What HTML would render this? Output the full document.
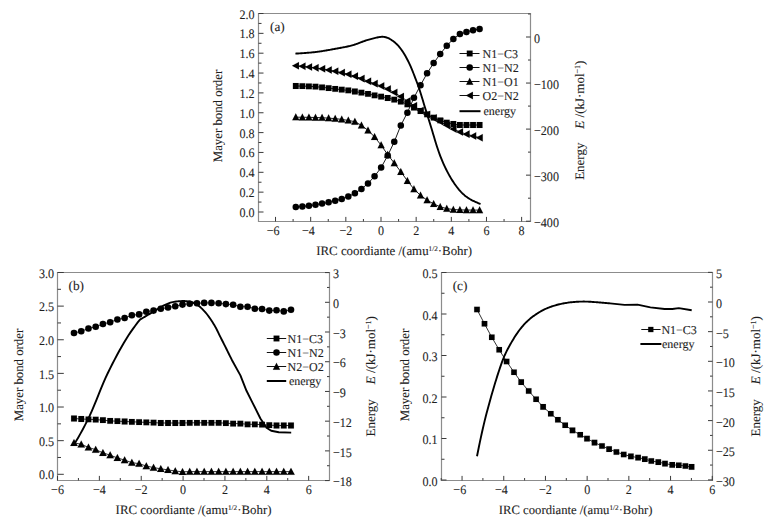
<!DOCTYPE html><html><head><meta charset="utf-8"><style>html,body{margin:0;padding:0;background:#fff;width:774px;height:520px;overflow:hidden}</style></head><body><svg width="774" height="520" viewBox="0 0 774 520" style="display:block">
<rect width="774" height="520" fill="#fff"/>
<g font-family="'Liberation Serif', serif" fill="#1e1e1e" stroke="#1e1e1e" stroke-width="0.1" text-rendering="geometricPrecision">
<path d="M258.5 13.5H530.5V221.5H258.5Z" fill="none" stroke="#8c8c8c" stroke-width="1.2"/>
<path d="M275.52 221.5v-4.6M310.68 221.5v-4.6M345.84 221.5v-4.6M381.00 221.5v-4.6M416.16 221.5v-4.6M451.32 221.5v-4.6M486.48 221.5v-4.6M521.64 221.5v-4.6M293.10 221.5v-2.5M328.26 221.5v-2.5M363.42 221.5v-2.5M398.58 221.5v-2.5M433.74 221.5v-2.5M468.90 221.5v-2.5M504.06 221.5v-2.5" stroke="#3a3a3a" stroke-width="1.0" fill="none"/>
<text transform="translate(273.22 234.70) scale(0.93 1.0)" text-anchor="middle" font-size="13">−6</text>
<text transform="translate(308.38 234.70) scale(0.93 1.0)" text-anchor="middle" font-size="13">−4</text>
<text transform="translate(345.84 234.70) scale(0.93 1.0)" text-anchor="middle" font-size="13">−2</text>
<text transform="translate(381.00 234.70) scale(0.93 1.0)" text-anchor="middle" font-size="13">0</text>
<text transform="translate(416.16 234.70) scale(0.93 1.0)" text-anchor="middle" font-size="13">2</text>
<text transform="translate(451.32 234.70) scale(0.93 1.0)" text-anchor="middle" font-size="13">4</text>
<text transform="translate(486.48 234.70) scale(0.93 1.0)" text-anchor="middle" font-size="13">6</text>
<text transform="translate(521.64 234.70) scale(0.93 1.0)" text-anchor="middle" font-size="13">8</text>
<path d="M258.5 212.00h5M258.5 192.15h5M258.5 172.30h5M258.5 152.45h5M258.5 132.60h5M258.5 112.75h5M258.5 92.90h5M258.5 73.05h5M258.5 53.20h5M258.5 33.35h5M258.5 13.50h5M258.5 202.07h3M258.5 182.22h3M258.5 162.38h3M258.5 142.53h3M258.5 122.67h3M258.5 102.82h3M258.5 82.97h3M258.5 63.12h3M258.5 43.28h3M258.5 23.43h3" stroke="#3a3a3a" stroke-width="1.0" fill="none"/>
<text transform="translate(254.50 217.00) scale(0.93 1.0)" text-anchor="end" font-size="13">0.0</text>
<text transform="translate(254.50 197.15) scale(0.93 1.0)" text-anchor="end" font-size="13">0.2</text>
<text transform="translate(254.50 177.30) scale(0.93 1.0)" text-anchor="end" font-size="13">0.4</text>
<text transform="translate(254.50 157.45) scale(0.93 1.0)" text-anchor="end" font-size="13">0.6</text>
<text transform="translate(254.50 137.60) scale(0.93 1.0)" text-anchor="end" font-size="13">0.8</text>
<text transform="translate(254.50 117.75) scale(0.93 1.0)" text-anchor="end" font-size="13">1.0</text>
<text transform="translate(254.50 97.90) scale(0.93 1.0)" text-anchor="end" font-size="13">1.2</text>
<text transform="translate(254.50 78.05) scale(0.93 1.0)" text-anchor="end" font-size="13">1.4</text>
<text transform="translate(254.50 58.20) scale(0.93 1.0)" text-anchor="end" font-size="13">1.6</text>
<text transform="translate(254.50 38.35) scale(0.93 1.0)" text-anchor="end" font-size="13">1.8</text>
<text transform="translate(254.50 18.50) scale(0.93 1.0)" text-anchor="end" font-size="13">2.0</text>
<path d="M530.5 37.00h-4.5M530.5 83.05h-4.5M530.5 129.10h-4.5M530.5 175.15h-4.5M530.5 221.20h-4.5M530.5 13.97h-2.5M530.5 60.03h-2.5M530.5 106.08h-2.5M530.5 152.12h-2.5M530.5 198.18h-2.5" stroke="#3a3a3a" stroke-width="1.0" fill="none"/>
<text transform="translate(534.00 43.00) scale(0.93 1.0)" text-anchor="start" font-size="13">0</text>
<text transform="translate(534.00 89.05) scale(0.93 1.0)" text-anchor="start" font-size="13">−100</text>
<text transform="translate(534.00 135.10) scale(0.93 1.0)" text-anchor="start" font-size="13">−200</text>
<text transform="translate(534.00 181.15) scale(0.93 1.0)" text-anchor="start" font-size="13">−300</text>
<text transform="translate(534.00 227.20) scale(0.93 1.0)" text-anchor="start" font-size="13">−400</text>
<text transform="translate(222.2 116) rotate(-90)" text-anchor="middle" font-size="12.8">Mayer bond order</text>
<text transform="translate(584.2 94.6) rotate(-90)" text-anchor="middle" font-size="13"><tspan font-style="italic">E</tspan> /(kJ·mol<tspan dy="-4" font-size="8">−1</tspan><tspan dy="4">)</tspan></text>
<text transform="translate(584.2 161.2) rotate(-90)" text-anchor="middle" font-size="13">Energy</text>
<text x="316.2" y="254.9" font-size="12.9">IRC coordiante /(amu<tspan dy="-3.8" font-size="7.2">1/2</tspan><tspan dy="3.8">·Bohr)</tspan></text>
<text x="270.0" y="30.5" font-size="13.3">(a)</text>
<path d="M295.80 86.00 L302.36 86.09 L308.93 86.30 L315.49 86.69 L322.06 87.28 L328.62 88.04 L335.18 88.90 L341.75 89.66 L348.31 90.47 L354.88 91.52 L361.44 92.71 L368.00 93.97 L374.57 95.29 L381.13 96.58 L387.70 97.98 L394.26 99.60 L400.82 101.58 L407.39 104.37 L413.95 107.48 L420.52 111.01 L427.08 114.44 L433.64 117.64 L440.21 120.46 L446.77 122.54 L453.34 123.99 L459.90 125.00 L466.46 125.00 L473.03 125.00 L479.59 125.00" fill="none" stroke="#000" stroke-width="0.9" stroke-linejoin="round" stroke-linecap="butt"/>
<path d="M292.90 83.10h5.8v5.8h-5.8ZM299.46 83.19h5.8v5.8h-5.8ZM306.03 83.40h5.8v5.8h-5.8ZM312.59 83.79h5.8v5.8h-5.8ZM319.16 84.38h5.8v5.8h-5.8ZM325.72 85.14h5.8v5.8h-5.8ZM332.28 86.00h5.8v5.8h-5.8ZM338.85 86.76h5.8v5.8h-5.8ZM345.41 87.57h5.8v5.8h-5.8ZM351.98 88.62h5.8v5.8h-5.8ZM358.54 89.81h5.8v5.8h-5.8ZM365.10 91.07h5.8v5.8h-5.8ZM371.67 92.39h5.8v5.8h-5.8ZM378.23 93.68h5.8v5.8h-5.8ZM384.80 95.08h5.8v5.8h-5.8ZM391.36 96.70h5.8v5.8h-5.8ZM397.92 98.68h5.8v5.8h-5.8ZM404.49 101.47h5.8v5.8h-5.8ZM411.05 104.58h5.8v5.8h-5.8ZM417.62 108.11h5.8v5.8h-5.8ZM424.18 111.54h5.8v5.8h-5.8ZM430.74 114.74h5.8v5.8h-5.8ZM437.31 117.56h5.8v5.8h-5.8ZM443.87 119.64h5.8v5.8h-5.8ZM450.44 121.09h5.8v5.8h-5.8ZM457.00 122.10h5.8v5.8h-5.8ZM463.56 122.10h5.8v5.8h-5.8ZM470.13 122.10h5.8v5.8h-5.8ZM476.69 122.10h5.8v5.8h-5.8Z" fill="#000"/>
<path d="M295.80 207.00 L302.36 206.49 L308.93 205.77 L315.49 204.82 L322.06 203.62 L328.62 202.33 L335.18 200.81 L341.75 198.93 L348.31 196.52 L354.88 193.28 L361.44 189.04 L368.00 183.41 L374.57 176.35 L381.13 167.51 L387.70 155.60 L394.26 141.82 L400.82 125.39 L407.39 112.65 L413.95 97.80 L420.52 85.16 L427.08 73.37 L433.64 63.08 L440.21 54.05 L446.77 45.72 L453.34 38.94 L459.90 34.07 L466.46 32.05 L473.03 30.17 L479.59 28.99" fill="none" stroke="#000" stroke-width="0.9" stroke-linejoin="round" stroke-linecap="butt"/>
<path d="M292.55 207.00a3.25 3.25 0 1 0 6.5 0a3.25 3.25 0 1 0 -6.5 0ZM299.11 206.49a3.25 3.25 0 1 0 6.5 0a3.25 3.25 0 1 0 -6.5 0ZM305.68 205.77a3.25 3.25 0 1 0 6.5 0a3.25 3.25 0 1 0 -6.5 0ZM312.24 204.82a3.25 3.25 0 1 0 6.5 0a3.25 3.25 0 1 0 -6.5 0ZM318.81 203.62a3.25 3.25 0 1 0 6.5 0a3.25 3.25 0 1 0 -6.5 0ZM325.37 202.33a3.25 3.25 0 1 0 6.5 0a3.25 3.25 0 1 0 -6.5 0ZM331.93 200.81a3.25 3.25 0 1 0 6.5 0a3.25 3.25 0 1 0 -6.5 0ZM338.50 198.93a3.25 3.25 0 1 0 6.5 0a3.25 3.25 0 1 0 -6.5 0ZM345.06 196.52a3.25 3.25 0 1 0 6.5 0a3.25 3.25 0 1 0 -6.5 0ZM351.63 193.28a3.25 3.25 0 1 0 6.5 0a3.25 3.25 0 1 0 -6.5 0ZM358.19 189.04a3.25 3.25 0 1 0 6.5 0a3.25 3.25 0 1 0 -6.5 0ZM364.75 183.41a3.25 3.25 0 1 0 6.5 0a3.25 3.25 0 1 0 -6.5 0ZM371.32 176.35a3.25 3.25 0 1 0 6.5 0a3.25 3.25 0 1 0 -6.5 0ZM377.88 167.51a3.25 3.25 0 1 0 6.5 0a3.25 3.25 0 1 0 -6.5 0ZM384.45 155.60a3.25 3.25 0 1 0 6.5 0a3.25 3.25 0 1 0 -6.5 0ZM391.01 141.82a3.25 3.25 0 1 0 6.5 0a3.25 3.25 0 1 0 -6.5 0ZM397.57 125.39a3.25 3.25 0 1 0 6.5 0a3.25 3.25 0 1 0 -6.5 0ZM404.14 112.65a3.25 3.25 0 1 0 6.5 0a3.25 3.25 0 1 0 -6.5 0ZM410.70 97.80a3.25 3.25 0 1 0 6.5 0a3.25 3.25 0 1 0 -6.5 0ZM417.27 85.16a3.25 3.25 0 1 0 6.5 0a3.25 3.25 0 1 0 -6.5 0ZM423.83 73.37a3.25 3.25 0 1 0 6.5 0a3.25 3.25 0 1 0 -6.5 0ZM430.39 63.08a3.25 3.25 0 1 0 6.5 0a3.25 3.25 0 1 0 -6.5 0ZM436.96 54.05a3.25 3.25 0 1 0 6.5 0a3.25 3.25 0 1 0 -6.5 0ZM443.52 45.72a3.25 3.25 0 1 0 6.5 0a3.25 3.25 0 1 0 -6.5 0ZM450.09 38.94a3.25 3.25 0 1 0 6.5 0a3.25 3.25 0 1 0 -6.5 0ZM456.65 34.07a3.25 3.25 0 1 0 6.5 0a3.25 3.25 0 1 0 -6.5 0ZM463.21 32.05a3.25 3.25 0 1 0 6.5 0a3.25 3.25 0 1 0 -6.5 0ZM469.78 30.17a3.25 3.25 0 1 0 6.5 0a3.25 3.25 0 1 0 -6.5 0ZM476.34 28.99a3.25 3.25 0 1 0 6.5 0a3.25 3.25 0 1 0 -6.5 0Z" fill="#000"/>
<path d="M295.80 117.20 L302.36 117.24 L308.93 117.34 L315.49 117.49 L322.06 117.72 L328.62 118.11 L335.18 118.63 L341.75 119.39 L348.31 120.45 L354.88 121.68 L361.44 125.36 L368.00 130.32 L374.57 136.95 L381.13 145.21 L387.70 154.66 L394.26 163.06 L400.82 171.76 L407.39 180.78 L413.95 189.07 L420.52 195.41 L427.08 200.13 L433.64 203.87 L440.21 206.77 L446.77 208.61 L453.34 209.52 L459.90 209.90 L466.46 210.01 L473.03 210.08 L479.59 210.10" fill="none" stroke="#000" stroke-width="0.9" stroke-linejoin="round" stroke-linecap="butt"/>
<path d="M295.80 113.35L299.40 120.35L292.20 120.35ZM302.36 113.39L305.96 120.39L298.76 120.39ZM308.93 113.49L312.53 120.49L305.33 120.49ZM315.49 113.64L319.09 120.64L311.89 120.64ZM322.06 113.87L325.66 120.87L318.46 120.87ZM328.62 114.26L332.22 121.26L325.02 121.26ZM335.18 114.78L338.78 121.78L331.58 121.78ZM341.75 115.54L345.35 122.54L338.15 122.54ZM348.31 116.60L351.91 123.60L344.71 123.60ZM354.88 117.83L358.48 124.83L351.28 124.83ZM361.44 121.51L365.04 128.51L357.84 128.51ZM368.00 126.47L371.60 133.47L364.40 133.47ZM374.57 133.10L378.17 140.10L370.97 140.10ZM381.13 141.36L384.73 148.36L377.53 148.36ZM387.70 150.81L391.30 157.81L384.10 157.81ZM394.26 159.21L397.86 166.21L390.66 166.21ZM400.82 167.91L404.42 174.91L397.22 174.91ZM407.39 176.93L410.99 183.93L403.79 183.93ZM413.95 185.22L417.55 192.22L410.35 192.22ZM420.52 191.56L424.12 198.56L416.92 198.56ZM427.08 196.28L430.68 203.28L423.48 203.28ZM433.64 200.02L437.24 207.02L430.04 207.02ZM440.21 202.92L443.81 209.92L436.61 209.92ZM446.77 204.76L450.37 211.76L443.17 211.76ZM453.34 205.67L456.94 212.67L449.74 212.67ZM459.90 206.05L463.50 213.05L456.30 213.05ZM466.46 206.16L470.06 213.16L462.86 213.16ZM473.03 206.23L476.63 213.23L469.43 213.23ZM479.59 206.25L483.19 213.25L475.99 213.25Z" fill="#000"/>
<path d="M295.80 65.72 L302.36 66.31 L308.93 67.03 L315.49 67.86 L322.06 68.82 L328.62 69.96 L335.18 71.24 L341.75 72.65 L348.31 74.28 L354.88 76.16 L361.44 78.61 L368.00 81.31 L374.57 83.63 L381.13 86.05 L387.70 89.04 L394.26 92.53 L400.82 96.61 L407.39 101.09 L413.95 105.86 L420.52 110.51 L427.08 114.45 L433.64 118.08 L440.21 121.61 L446.77 125.33 L453.34 128.96 L459.90 131.96 L466.46 134.13 L473.03 135.98 L479.59 137.75" fill="none" stroke="#000" stroke-width="0.9" stroke-linejoin="round" stroke-linecap="butt"/>
<path d="M291.95 65.72L298.95 61.92L298.95 69.52ZM298.51 66.31L305.51 62.51L305.51 70.11ZM305.08 67.03L312.08 63.23L312.08 70.83ZM311.64 67.86L318.64 64.06L318.64 71.66ZM318.21 68.82L325.21 65.02L325.21 72.62ZM324.77 69.96L331.77 66.16L331.77 73.76ZM331.33 71.24L338.33 67.44L338.33 75.04ZM337.90 72.65L344.90 68.85L344.90 76.45ZM344.46 74.28L351.46 70.48L351.46 78.08ZM351.03 76.16L358.03 72.36L358.03 79.96ZM357.59 78.61L364.59 74.81L364.59 82.41ZM364.15 81.31L371.15 77.51L371.15 85.11ZM370.72 83.63L377.72 79.83L377.72 87.43ZM377.28 86.05L384.28 82.25L384.28 89.85ZM383.85 89.04L390.85 85.24L390.85 92.84ZM390.41 92.53L397.41 88.73L397.41 96.33ZM396.97 96.61L403.97 92.81L403.97 100.41ZM403.54 101.09L410.54 97.29L410.54 104.89ZM410.10 105.86L417.10 102.06L417.10 109.66ZM416.67 110.51L423.67 106.71L423.67 114.31ZM423.23 114.45L430.23 110.65L430.23 118.25ZM429.79 118.08L436.79 114.28L436.79 121.88ZM436.36 121.61L443.36 117.81L443.36 125.41ZM442.92 125.33L449.92 121.53L449.92 129.13ZM449.49 128.96L456.49 125.16L456.49 132.76ZM456.05 131.96L463.05 128.16L463.05 135.76ZM462.61 134.13L469.61 130.33L469.61 137.93ZM469.18 135.98L476.18 132.18L476.18 139.78ZM475.74 137.75L482.74 133.95L482.74 141.55Z" fill="#000"/>
<path d="M295.40 53.60 L296.33 53.55 L297.26 53.49 L298.19 53.44 L299.12 53.39 L300.05 53.33 L300.98 53.28 L301.91 53.22 L302.84 53.16 L303.77 53.10 L304.70 53.03 L305.63 52.96 L306.56 52.90 L307.49 52.82 L308.42 52.75 L309.35 52.67 L310.28 52.58 L311.21 52.50 L312.14 52.41 L313.07 52.31 L314.00 52.21 L314.93 52.10 L315.86 51.99 L316.79 51.87 L317.72 51.75 L318.65 51.62 L319.58 51.49 L320.51 51.36 L321.44 51.22 L322.37 51.07 L323.30 50.92 L324.23 50.77 L325.16 50.62 L326.09 50.46 L327.03 50.30 L327.96 50.14 L328.89 49.98 L329.82 49.81 L330.75 49.64 L331.68 49.47 L332.61 49.31 L333.54 49.14 L334.47 48.97 L335.40 48.80 L336.33 48.63 L337.26 48.46 L338.19 48.29 L339.12 48.12 L340.05 47.95 L340.98 47.78 L341.91 47.61 L342.84 47.44 L343.77 47.26 L344.70 47.08 L345.63 46.89 L346.56 46.70 L347.49 46.50 L348.42 46.29 L349.35 46.07 L350.28 45.84 L351.21 45.60 L352.14 45.35 L353.07 45.09 L354.00 44.81 L354.93 44.51 L355.86 44.21 L356.79 43.88 L357.72 43.54 L358.65 43.19 L359.58 42.83 L360.51 42.47 L361.44 42.11 L362.37 41.75 L363.30 41.40 L364.23 41.05 L365.16 40.73 L366.09 40.41 L367.02 40.12 L367.95 39.84 L368.88 39.57 L369.81 39.31 L370.74 39.06 L371.67 38.82 L372.60 38.59 L373.53 38.36 L374.46 38.14 L375.39 37.92 L376.32 37.69 L377.25 37.47 L378.18 37.27 L379.11 37.09 L380.04 36.94 L380.97 36.84 L381.90 36.79 L382.83 36.80 L383.76 36.88 L384.69 37.01 L385.62 37.21 L386.55 37.48 L387.48 37.81 L388.42 38.21 L389.35 38.68 L390.28 39.21 L391.21 39.79 L392.14 40.42 L393.07 41.09 L394.00 41.81 L394.93 42.57 L395.86 43.38 L396.79 44.25 L397.72 45.19 L398.65 46.20 L399.58 47.30 L400.51 48.48 L401.44 49.74 L402.37 51.09 L403.30 52.51 L404.23 54.01 L405.16 55.59 L406.09 57.24 L407.02 58.96 L407.95 60.76 L408.88 62.64 L409.81 64.61 L410.74 66.69 L411.67 68.86 L412.60 71.15 L413.53 73.51 L414.46 75.92 L415.39 78.33 L416.32 80.74 L417.25 83.21 L418.18 85.75 L419.11 88.42 L420.04 91.23 L420.97 94.18 L421.90 97.22 L422.83 100.32 L423.76 103.44 L424.69 106.55 L425.62 109.61 L426.55 112.62 L427.48 115.60 L428.41 118.56 L429.34 121.52 L430.27 124.50 L431.20 127.51 L432.13 130.57 L433.06 133.67 L433.99 136.80 L434.92 139.92 L435.85 142.99 L436.78 145.97 L437.71 148.83 L438.64 151.55 L439.57 154.14 L440.50 156.60 L441.43 158.94 L442.36 161.18 L443.29 163.33 L444.22 165.38 L445.15 167.37 L446.08 169.28 L447.01 171.12 L447.94 172.90 L448.87 174.61 L449.81 176.26 L450.74 177.86 L451.67 179.39 L452.60 180.87 L453.53 182.30 L454.46 183.67 L455.39 185.00 L456.32 186.27 L457.25 187.49 L458.18 188.67 L459.11 189.79 L460.04 190.85 L460.97 191.87 L461.90 192.83 L462.83 193.74 L463.76 194.59 L464.69 195.39 L465.62 196.15 L466.55 196.85 L467.48 197.52 L468.41 198.15 L469.34 198.73 L470.27 199.29 L471.20 199.81 L472.13 200.31 L473.06 200.78 L473.99 201.23 L474.92 201.67 L475.85 202.08 L476.78 202.48 L477.71 202.87 L478.64 203.26 L479.57 203.63 L480.50 204.01" fill="none" stroke="#000" stroke-width="1.9" stroke-linejoin="round" stroke-linecap="butt"/>
<path d="M459.5 53.5H479.5" stroke="#111" stroke-width="1.0"/>
<path d="M466.80 50.60h5.8v5.8h-5.8Z" fill="#000"/>
<text x="482.6" y="58.0" font-size="12">N1−C3</text>
<path d="M459.5 67.5H479.5" stroke="#111" stroke-width="1.0"/>
<path d="M466.45 67.50a3.25 3.25 0 1 0 6.5 0a3.25 3.25 0 1 0 -6.5 0Z" fill="#000"/>
<text x="482.6" y="72.0" font-size="12">N1−N2</text>
<path d="M459.5 81.5H479.5" stroke="#111" stroke-width="1.0"/>
<path d="M469.70 77.65L473.30 84.65L466.10 84.65Z" fill="#000"/>
<text x="482.6" y="86.0" font-size="12">N1−O1</text>
<path d="M459.5 95.5H479.5" stroke="#111" stroke-width="1.0"/>
<path d="M465.85 95.50L472.85 91.70L472.85 99.30Z" fill="#000"/>
<text x="482.6" y="100.0" font-size="12">O2−N2</text>
<path d="M459.5 111.2H480.5" stroke="#000" stroke-width="2.0"/>
<text x="483.5" y="115.0" font-size="12">energy</text>
<path d="M57.5 272.5H329.5V480.5H57.5Z" fill="none" stroke="#8c8c8c" stroke-width="1.2"/>
<path d="M57.50 480.5v-4.6M99.36 480.5v-4.6M141.22 480.5v-4.6M183.08 480.5v-4.6M224.94 480.5v-4.6M266.80 480.5v-4.6M308.66 480.5v-4.6M78.43 480.5v-2.5M120.29 480.5v-2.5M162.15 480.5v-2.5M204.01 480.5v-2.5M245.87 480.5v-2.5M287.73 480.5v-2.5" stroke="#3a3a3a" stroke-width="1.0" fill="none"/>
<text transform="translate(57.50 494.00) scale(0.93 1.0)" text-anchor="middle" font-size="13">−6</text>
<text transform="translate(99.36 494.00) scale(0.93 1.0)" text-anchor="middle" font-size="13">−4</text>
<text transform="translate(141.22 494.00) scale(0.93 1.0)" text-anchor="middle" font-size="13">−2</text>
<text transform="translate(183.08 494.00) scale(0.93 1.0)" text-anchor="middle" font-size="13">0</text>
<text transform="translate(224.94 494.00) scale(0.93 1.0)" text-anchor="middle" font-size="13">2</text>
<text transform="translate(266.80 494.00) scale(0.93 1.0)" text-anchor="middle" font-size="13">4</text>
<text transform="translate(308.66 494.00) scale(0.93 1.0)" text-anchor="middle" font-size="13">6</text>
<path d="M57.5 474.30h6.3M57.5 440.67h6.3M57.5 407.03h6.3M57.5 373.39h6.3M57.5 339.76h6.3M57.5 306.12h6.3M57.5 272.49h6.3M57.5 457.48h3.5M57.5 423.85h3.5M57.5 390.21h3.5M57.5 356.58h3.5M57.5 322.94h3.5M57.5 289.31h3.5" stroke="#3a3a3a" stroke-width="1.0" fill="none"/>
<text transform="translate(54.00 479.40) scale(0.93 1.0)" text-anchor="end" font-size="13">0.0</text>
<text transform="translate(54.00 445.77) scale(0.93 1.0)" text-anchor="end" font-size="13">0.5</text>
<text transform="translate(54.00 412.13) scale(0.93 1.0)" text-anchor="end" font-size="13">1.0</text>
<text transform="translate(54.00 378.50) scale(0.93 1.0)" text-anchor="end" font-size="13">1.5</text>
<text transform="translate(54.00 344.86) scale(0.93 1.0)" text-anchor="end" font-size="13">2.0</text>
<text transform="translate(54.00 311.23) scale(0.93 1.0)" text-anchor="end" font-size="13">2.5</text>
<text transform="translate(54.00 277.59) scale(0.93 1.0)" text-anchor="end" font-size="13">3.0</text>
<path d="M329.5 272.59h-4.5M329.5 302.30h-4.5M329.5 332.01h-4.5M329.5 361.73h-4.5M329.5 391.44h-4.5M329.5 421.16h-4.5M329.5 450.88h-4.5M329.5 480.59h-4.5M329.5 287.44h-2.5M329.5 317.16h-2.5M329.5 346.87h-2.5M329.5 376.59h-2.5M329.5 406.30h-2.5M329.5 436.02h-2.5M329.5 465.73h-2.5" stroke="#3a3a3a" stroke-width="1.0" fill="none"/>
<text transform="translate(333.00 278.29) scale(0.93 1.0)" text-anchor="start" font-size="13">3</text>
<text transform="translate(333.00 308.00) scale(0.93 1.0)" text-anchor="start" font-size="13">0</text>
<text transform="translate(333.00 337.71) scale(0.93 1.0)" text-anchor="start" font-size="13">−3</text>
<text transform="translate(333.00 367.43) scale(0.93 1.0)" text-anchor="start" font-size="13">−6</text>
<text transform="translate(333.00 397.14) scale(0.93 1.0)" text-anchor="start" font-size="13">−9</text>
<text transform="translate(333.00 426.86) scale(0.93 1.0)" text-anchor="start" font-size="13">−12</text>
<text transform="translate(333.00 456.57) scale(0.93 1.0)" text-anchor="start" font-size="13">−15</text>
<text transform="translate(333.00 486.29) scale(0.93 1.0)" text-anchor="start" font-size="13">−18</text>
<text transform="translate(23.0 375) rotate(-90)" text-anchor="middle" font-size="12.8">Mayer bond order</text>
<text transform="translate(374.9 350.1) rotate(-90)" text-anchor="middle" font-size="13"><tspan font-style="italic">E</tspan> /(kJ·mol<tspan dy="-4" font-size="8">−1</tspan><tspan dy="4">)</tspan></text>
<text transform="translate(374.9 417.8) rotate(-90)" text-anchor="middle" font-size="13">Energy</text>
<text x="115.6" y="513.9" font-size="12.9">IRC coordiante /(amu<tspan dy="-3.8" font-size="7.2">1/2</tspan><tspan dy="3.8">·Bohr)</tspan></text>
<text x="68.5" y="289.6" font-size="13.3">(b)</text>
<path d="M74.00 418.50 L81.23 419.00 L88.47 419.30 L95.70 419.60 L102.93 420.20 L110.16 420.90 L117.40 421.20 L124.63 421.50 L131.86 421.80 L139.10 422.10 L146.33 422.40 L153.56 422.70 L160.80 423.00 L168.03 423.00 L175.26 423.00 L182.50 423.00 L189.73 422.80 L196.96 422.80 L204.19 422.80 L211.43 422.80 L218.66 422.80 L225.89 423.20 L233.13 423.60 L240.36 423.60 L247.59 424.30 L254.82 424.30 L262.06 424.70 L269.29 425.20 L276.52 425.50 L283.76 425.50 L290.99 425.50" fill="none" stroke="#000" stroke-width="0.8" stroke-linejoin="round" stroke-linecap="butt"/>
<path d="M71.10 415.60h5.8v5.8h-5.8ZM78.33 416.10h5.8v5.8h-5.8ZM85.57 416.40h5.8v5.8h-5.8ZM92.80 416.70h5.8v5.8h-5.8ZM100.03 417.30h5.8v5.8h-5.8ZM107.26 418.00h5.8v5.8h-5.8ZM114.50 418.30h5.8v5.8h-5.8ZM121.73 418.60h5.8v5.8h-5.8ZM128.96 418.90h5.8v5.8h-5.8ZM136.20 419.20h5.8v5.8h-5.8ZM143.43 419.50h5.8v5.8h-5.8ZM150.66 419.80h5.8v5.8h-5.8ZM157.90 420.10h5.8v5.8h-5.8ZM165.13 420.10h5.8v5.8h-5.8ZM172.36 420.10h5.8v5.8h-5.8ZM179.59 420.10h5.8v5.8h-5.8ZM186.83 419.90h5.8v5.8h-5.8ZM194.06 419.90h5.8v5.8h-5.8ZM201.29 419.90h5.8v5.8h-5.8ZM208.53 419.90h5.8v5.8h-5.8ZM215.76 419.90h5.8v5.8h-5.8ZM222.99 420.30h5.8v5.8h-5.8ZM230.23 420.70h5.8v5.8h-5.8ZM237.46 420.70h5.8v5.8h-5.8ZM244.69 421.40h5.8v5.8h-5.8ZM251.92 421.40h5.8v5.8h-5.8ZM259.16 421.80h5.8v5.8h-5.8ZM266.39 422.30h5.8v5.8h-5.8ZM273.62 422.60h5.8v5.8h-5.8ZM280.86 422.60h5.8v5.8h-5.8ZM288.09 422.60h5.8v5.8h-5.8Z" fill="#000"/>
<path d="M74.00 333.00 L81.23 331.30 L88.47 328.50 L95.70 326.70 L102.93 324.00 L110.16 322.20 L117.40 319.50 L124.63 318.00 L131.86 315.30 L139.10 314.40 L146.33 311.70 L153.56 310.60 L160.80 308.80 L168.03 307.50 L175.26 306.30 L182.50 304.60 L189.73 303.70 L196.96 303.30 L204.19 302.90 L211.43 302.90 L218.66 303.20 L225.89 304.10 L233.13 304.70 L240.36 306.70 L247.59 306.70 L254.82 308.70 L262.06 309.00 L269.29 310.60 L276.52 310.30 L283.76 311.40 L290.99 309.80" fill="none" stroke="#000" stroke-width="0.8" stroke-linejoin="round" stroke-linecap="butt"/>
<path d="M70.70 333.00a3.3 3.3 0 1 0 6.6 0a3.3 3.3 0 1 0 -6.6 0ZM77.93 331.30a3.3 3.3 0 1 0 6.6 0a3.3 3.3 0 1 0 -6.6 0ZM85.17 328.50a3.3 3.3 0 1 0 6.6 0a3.3 3.3 0 1 0 -6.6 0ZM92.40 326.70a3.3 3.3 0 1 0 6.6 0a3.3 3.3 0 1 0 -6.6 0ZM99.63 324.00a3.3 3.3 0 1 0 6.6 0a3.3 3.3 0 1 0 -6.6 0ZM106.86 322.20a3.3 3.3 0 1 0 6.6 0a3.3 3.3 0 1 0 -6.6 0ZM114.10 319.50a3.3 3.3 0 1 0 6.6 0a3.3 3.3 0 1 0 -6.6 0ZM121.33 318.00a3.3 3.3 0 1 0 6.6 0a3.3 3.3 0 1 0 -6.6 0ZM128.56 315.30a3.3 3.3 0 1 0 6.6 0a3.3 3.3 0 1 0 -6.6 0ZM135.80 314.40a3.3 3.3 0 1 0 6.6 0a3.3 3.3 0 1 0 -6.6 0ZM143.03 311.70a3.3 3.3 0 1 0 6.6 0a3.3 3.3 0 1 0 -6.6 0ZM150.26 310.60a3.3 3.3 0 1 0 6.6 0a3.3 3.3 0 1 0 -6.6 0ZM157.50 308.80a3.3 3.3 0 1 0 6.6 0a3.3 3.3 0 1 0 -6.6 0ZM164.73 307.50a3.3 3.3 0 1 0 6.6 0a3.3 3.3 0 1 0 -6.6 0ZM171.96 306.30a3.3 3.3 0 1 0 6.6 0a3.3 3.3 0 1 0 -6.6 0ZM179.19 304.60a3.3 3.3 0 1 0 6.6 0a3.3 3.3 0 1 0 -6.6 0ZM186.43 303.70a3.3 3.3 0 1 0 6.6 0a3.3 3.3 0 1 0 -6.6 0ZM193.66 303.30a3.3 3.3 0 1 0 6.6 0a3.3 3.3 0 1 0 -6.6 0ZM200.89 302.90a3.3 3.3 0 1 0 6.6 0a3.3 3.3 0 1 0 -6.6 0ZM208.13 302.90a3.3 3.3 0 1 0 6.6 0a3.3 3.3 0 1 0 -6.6 0ZM215.36 303.20a3.3 3.3 0 1 0 6.6 0a3.3 3.3 0 1 0 -6.6 0ZM222.59 304.10a3.3 3.3 0 1 0 6.6 0a3.3 3.3 0 1 0 -6.6 0ZM229.83 304.70a3.3 3.3 0 1 0 6.6 0a3.3 3.3 0 1 0 -6.6 0ZM237.06 306.70a3.3 3.3 0 1 0 6.6 0a3.3 3.3 0 1 0 -6.6 0ZM244.29 306.70a3.3 3.3 0 1 0 6.6 0a3.3 3.3 0 1 0 -6.6 0ZM251.52 308.70a3.3 3.3 0 1 0 6.6 0a3.3 3.3 0 1 0 -6.6 0ZM258.76 309.00a3.3 3.3 0 1 0 6.6 0a3.3 3.3 0 1 0 -6.6 0ZM265.99 310.60a3.3 3.3 0 1 0 6.6 0a3.3 3.3 0 1 0 -6.6 0ZM273.22 310.30a3.3 3.3 0 1 0 6.6 0a3.3 3.3 0 1 0 -6.6 0ZM280.46 311.40a3.3 3.3 0 1 0 6.6 0a3.3 3.3 0 1 0 -6.6 0ZM287.69 309.80a3.3 3.3 0 1 0 6.6 0a3.3 3.3 0 1 0 -6.6 0Z" fill="#000"/>
<path d="M74.00 442.80 L81.23 444.30 L88.47 447.40 L95.70 449.70 L102.93 452.80 L110.16 455.20 L117.40 457.90 L124.63 460.10 L131.86 462.60 L139.10 463.70 L146.33 466.00 L153.56 467.60 L160.80 468.80 L168.03 469.90 L175.26 471.00 L182.50 471.80 L189.73 471.60 L196.96 471.60 L204.19 471.60 L211.43 471.60 L218.66 471.60 L225.89 471.60 L233.13 471.60 L240.36 471.60 L247.59 471.60 L254.82 471.60 L262.06 471.60 L269.29 471.60 L276.52 471.60 L283.76 471.60 L290.99 471.60" fill="none" stroke="#000" stroke-width="0.8" stroke-linejoin="round" stroke-linecap="butt"/>
<path d="M74.00 438.95L77.80 445.95L70.20 445.95ZM81.23 440.45L85.03 447.45L77.43 447.45ZM88.47 443.55L92.27 450.55L84.67 450.55ZM95.70 445.85L99.50 452.85L91.90 452.85ZM102.93 448.95L106.73 455.95L99.13 455.95ZM110.16 451.35L113.96 458.35L106.36 458.35ZM117.40 454.05L121.20 461.05L113.60 461.05ZM124.63 456.25L128.43 463.25L120.83 463.25ZM131.86 458.75L135.66 465.75L128.06 465.75ZM139.10 459.85L142.90 466.85L135.30 466.85ZM146.33 462.15L150.13 469.15L142.53 469.15ZM153.56 463.75L157.36 470.75L149.76 470.75ZM160.80 464.95L164.60 471.95L157.00 471.95ZM168.03 466.05L171.83 473.05L164.23 473.05ZM175.26 467.15L179.06 474.15L171.46 474.15ZM182.50 467.95L186.30 474.95L178.69 474.95ZM189.73 467.75L193.53 474.75L185.93 474.75ZM196.96 467.75L200.76 474.75L193.16 474.75ZM204.19 467.75L207.99 474.75L200.39 474.75ZM211.43 467.75L215.23 474.75L207.63 474.75ZM218.66 467.75L222.46 474.75L214.86 474.75ZM225.89 467.75L229.69 474.75L222.09 474.75ZM233.13 467.75L236.93 474.75L229.33 474.75ZM240.36 467.75L244.16 474.75L236.56 474.75ZM247.59 467.75L251.39 474.75L243.79 474.75ZM254.82 467.75L258.62 474.75L251.02 474.75ZM262.06 467.75L265.86 474.75L258.26 474.75ZM269.29 467.75L273.09 474.75L265.49 474.75ZM276.52 467.75L280.32 474.75L272.72 474.75ZM283.76 467.75L287.56 474.75L279.96 474.75ZM290.99 467.75L294.79 474.75L287.19 474.75Z" fill="#000"/>
<path d="M73.40 445.40 L75.70 441.73 L77.99 437.89 L80.29 433.88 L82.59 429.70 L84.88 425.35 L87.18 420.85 L89.48 416.13 L91.77 411.02 L94.07 405.62 L96.37 400.03 L98.66 394.36 L100.96 388.71 L103.26 383.20 L105.55 377.94 L107.85 373.00 L110.14 368.30 L112.44 363.77 L114.74 359.35 L117.03 355.03 L119.33 350.81 L121.63 346.73 L123.92 342.81 L126.22 339.00 L128.52 335.34 L130.81 331.88 L133.11 328.59 L135.41 325.44 L137.70 322.43 L140.00 319.60 L140.00 319.60 L141.17 318.91 L142.34 318.23 L143.51 317.54 L144.67 316.85 L145.84 316.16 L147.01 315.47 L148.18 314.78 L149.35 314.09 L150.52 313.39 L151.68 312.68 L152.85 311.94 L154.02 311.20 L155.19 310.45 L156.36 309.71 L157.53 308.98 L158.69 308.26 L159.86 307.57 L161.03 306.91 L162.20 306.29 L163.37 305.71 L164.54 305.16 L165.70 304.60 L166.87 304.06 L168.04 303.54 L169.21 303.06 L170.38 302.65 L171.55 302.32 L172.71 302.08 L173.88 301.89 L175.05 301.72 L176.22 301.55 L177.39 301.40 L178.56 301.27 L179.72 301.16 L180.89 301.08 L182.06 301.03 L183.23 301.00 L184.40 301.02 L185.57 301.08 L186.73 301.19 L187.90 301.34 L189.07 301.52 L190.24 301.72 L191.41 301.96 L192.58 302.35 L193.74 302.87 L194.91 303.48 L196.08 304.15 L197.25 304.85 L198.42 305.65 L199.59 306.56 L200.75 307.57 L201.92 308.67 L203.09 309.84 L204.26 311.06 L205.43 312.36 L206.60 313.76 L207.76 315.25 L208.93 316.83 L210.10 318.49 L211.27 320.23 L212.44 322.04 L213.61 323.92 L214.77 325.85 L215.94 327.91 L217.11 330.21 L218.28 332.64 L219.45 335.08 L220.62 337.43 L221.78 339.74 L222.95 342.05 L224.12 344.37 L225.29 346.68 L226.46 349.02 L227.63 351.36 L228.79 353.71 L229.96 356.06 L231.13 358.43 L232.30 360.80 L240.40 375.40 L246.50 390.80 L252.70 403.10 L260.40 418.50 L266.50 427.70 L271.20 430.80 L278.80 432.30 L291.20 432.60" fill="none" stroke="#000" stroke-width="1.9" stroke-linejoin="round" stroke-linecap="butt"/>
<path d="M266.8 338.5H286.2" stroke="#111" stroke-width="1.0"/>
<path d="M273.60 335.60h5.8v5.8h-5.8Z" fill="#000"/>
<text x="287.6" y="343.0" font-size="12">N1−C3</text>
<path d="M266.8 352.5H286.2" stroke="#111" stroke-width="1.0"/>
<path d="M273.25 352.50a3.25 3.25 0 1 0 6.5 0a3.25 3.25 0 1 0 -6.5 0Z" fill="#000"/>
<text x="287.6" y="357.0" font-size="12">N1−N2</text>
<path d="M266.8 366.5H286.2" stroke="#111" stroke-width="1.0"/>
<path d="M276.50 362.65L280.10 369.65L272.90 369.65Z" fill="#000"/>
<text x="287.6" y="371.0" font-size="12">N2−O2</text>
<path d="M266.8 381.0H286.2" stroke="#000" stroke-width="2.0"/>
<text x="288.9" y="384.5" font-size="12">energy</text>
<path d="M441.5 272.5H712.5V480.5H441.5Z" fill="none" stroke="#8c8c8c" stroke-width="1.2"/>
<path d="M462.05 480.5v-4.6M503.75 480.5v-4.6M545.45 480.5v-4.6M587.15 480.5v-4.6M628.85 480.5v-4.6M670.55 480.5v-4.6M712.25 480.5v-4.6M441.20 480.5v-2.5M482.90 480.5v-2.5M524.60 480.5v-2.5M566.30 480.5v-2.5M608.00 480.5v-2.5M649.70 480.5v-2.5M691.40 480.5v-2.5" stroke="#3a3a3a" stroke-width="1.0" fill="none"/>
<text transform="translate(459.75 494.00) scale(0.93 1.0)" text-anchor="middle" font-size="13">−6</text>
<text transform="translate(501.45 494.00) scale(0.93 1.0)" text-anchor="middle" font-size="13">−4</text>
<text transform="translate(545.45 494.00) scale(0.93 1.0)" text-anchor="middle" font-size="13">−2</text>
<text transform="translate(587.15 494.00) scale(0.93 1.0)" text-anchor="middle" font-size="13">0</text>
<text transform="translate(628.85 494.00) scale(0.93 1.0)" text-anchor="middle" font-size="13">2</text>
<text transform="translate(670.55 494.00) scale(0.93 1.0)" text-anchor="middle" font-size="13">4</text>
<text transform="translate(712.25 494.00) scale(0.93 1.0)" text-anchor="middle" font-size="13">6</text>
<path d="M441.5 480.00h5M441.5 438.50h5M441.5 397.00h5M441.5 355.50h5M441.5 314.00h5M441.5 272.50h5M441.5 459.25h3M441.5 417.75h3M441.5 376.25h3M441.5 334.75h3M441.5 293.25h3" stroke="#3a3a3a" stroke-width="1.0" fill="none"/>
<text transform="translate(437.50 485.90) scale(0.93 1.0)" text-anchor="end" font-size="13">0.0</text>
<text transform="translate(437.50 444.40) scale(0.93 1.0)" text-anchor="end" font-size="13">0.1</text>
<text transform="translate(437.50 402.90) scale(0.93 1.0)" text-anchor="end" font-size="13">0.2</text>
<text transform="translate(437.50 361.40) scale(0.93 1.0)" text-anchor="end" font-size="13">0.3</text>
<text transform="translate(437.50 319.90) scale(0.93 1.0)" text-anchor="end" font-size="13">0.4</text>
<text transform="translate(437.50 278.40) scale(0.93 1.0)" text-anchor="end" font-size="13">0.5</text>
<path d="M712.5 272.35h-4.5M712.5 302.00h-4.5M712.5 331.65h-4.5M712.5 361.30h-4.5M712.5 390.95h-4.5M712.5 420.60h-4.5M712.5 450.25h-4.5M712.5 479.90h-4.5M712.5 287.18h-2.5M712.5 316.82h-2.5M712.5 346.48h-2.5M712.5 376.12h-2.5M712.5 405.77h-2.5M712.5 435.42h-2.5M712.5 465.07h-2.5" stroke="#3a3a3a" stroke-width="1.0" fill="none"/>
<text transform="translate(716.00 278.25) scale(0.93 1.0)" text-anchor="start" font-size="13">5</text>
<text transform="translate(716.00 307.90) scale(0.93 1.0)" text-anchor="start" font-size="13">0</text>
<text transform="translate(716.00 337.55) scale(0.93 1.0)" text-anchor="start" font-size="13">−5</text>
<text transform="translate(716.00 367.20) scale(0.93 1.0)" text-anchor="start" font-size="13">−10</text>
<text transform="translate(716.00 396.85) scale(0.93 1.0)" text-anchor="start" font-size="13">−15</text>
<text transform="translate(716.00 426.50) scale(0.93 1.0)" text-anchor="start" font-size="13">−20</text>
<text transform="translate(716.00 456.15) scale(0.93 1.0)" text-anchor="start" font-size="13">−25</text>
<text transform="translate(716.00 485.80) scale(0.93 1.0)" text-anchor="start" font-size="13">−30</text>
<text transform="translate(408.6 375) rotate(-90)" text-anchor="middle" font-size="12.8">Mayer bond order</text>
<text transform="translate(760.3 350.1) rotate(-90)" text-anchor="middle" font-size="13"><tspan font-style="italic">E</tspan> /(kJ·mol<tspan dy="-4" font-size="8">−1</tspan><tspan dy="4">)</tspan></text>
<text transform="translate(760.3 417.8) rotate(-90)" text-anchor="middle" font-size="13">Energy</text>
<text x="498.8" y="514.2" font-size="12.7">IRC coordiante /(amu<tspan dy="-3.8" font-size="7.2">1/2</tspan><tspan dy="3.8">·Bohr)</tspan></text>
<text x="452.7" y="289.6" font-size="13.3">(c)</text>
<path d="M477.00 309.50 L484.50 323.80 L491.80 337.30 L499.20 349.80 L506.60 361.50 L514.00 372.20 L521.20 382.10 L528.70 391.00 L536.10 399.20 L543.10 406.90 L550.80 413.70 L557.90 419.80 L565.20 425.20 L572.50 430.40 L580.20 434.80 L587.00 438.60 L594.50 442.60 L602.00 446.00 L609.10 449.10 L616.40 452.00 L623.70 454.50 L630.90 456.40 L638.10 457.60 L644.80 459.10 L651.30 461.00 L658.30 462.10 L665.00 463.60 L672.20 464.90 L678.80 465.20 L685.40 466.00 L691.60 466.90" fill="none" stroke="#000" stroke-width="0.8" stroke-linejoin="round" stroke-linecap="butt"/>
<path d="M474.20 306.70h5.6v5.6h-5.6ZM481.70 321.00h5.6v5.6h-5.6ZM489.00 334.50h5.6v5.6h-5.6ZM496.40 347.00h5.6v5.6h-5.6ZM503.80 358.70h5.6v5.6h-5.6ZM511.20 369.40h5.6v5.6h-5.6ZM518.40 379.30h5.6v5.6h-5.6ZM525.90 388.20h5.6v5.6h-5.6ZM533.30 396.40h5.6v5.6h-5.6ZM540.30 404.10h5.6v5.6h-5.6ZM548.00 410.90h5.6v5.6h-5.6ZM555.10 417.00h5.6v5.6h-5.6ZM562.40 422.40h5.6v5.6h-5.6ZM569.70 427.60h5.6v5.6h-5.6ZM577.40 432.00h5.6v5.6h-5.6ZM584.20 435.80h5.6v5.6h-5.6ZM591.70 439.80h5.6v5.6h-5.6ZM599.20 443.20h5.6v5.6h-5.6ZM606.30 446.30h5.6v5.6h-5.6ZM613.60 449.20h5.6v5.6h-5.6ZM620.90 451.70h5.6v5.6h-5.6ZM628.10 453.60h5.6v5.6h-5.6ZM635.30 454.80h5.6v5.6h-5.6ZM642.00 456.30h5.6v5.6h-5.6ZM648.50 458.20h5.6v5.6h-5.6ZM655.50 459.30h5.6v5.6h-5.6ZM662.20 460.80h5.6v5.6h-5.6ZM669.40 462.10h5.6v5.6h-5.6ZM676.00 462.40h5.6v5.6h-5.6ZM682.60 463.20h5.6v5.6h-5.6ZM688.80 464.10h5.6v5.6h-5.6Z" fill="#000"/>
<path d="M477.00 456.19 L477.96 451.48 L478.91 446.80 L479.87 442.17 L480.83 437.64 L481.78 433.22 L482.74 428.96 L483.70 424.85 L484.65 420.89 L485.61 417.06 L486.57 413.34 L487.53 409.71 L488.48 406.16 L489.44 402.67 L490.40 399.22 L491.35 395.83 L492.31 392.49 L493.27 389.21 L494.22 385.98 L495.18 382.81 L496.14 379.70 L497.09 376.64 L498.05 373.65 L499.01 370.72 L499.96 367.86 L500.92 365.10 L501.88 362.44 L502.83 359.90 L503.79 357.49 L504.75 355.24 L505.71 353.13 L506.66 351.14 L507.62 349.25 L508.58 347.46 L509.53 345.72 L510.49 344.04 L511.45 342.38 L512.40 340.75 L513.36 339.16 L514.32 337.61 L515.27 336.10 L516.23 334.63 L517.19 333.21 L518.14 331.84 L519.10 330.53 L520.06 329.26 L521.01 328.05 L521.97 326.89 L522.93 325.78 L523.88 324.71 L524.84 323.68 L525.80 322.70 L526.76 321.76 L527.71 320.85 L528.67 319.98 L529.63 319.15 L530.58 318.34 L531.54 317.57 L532.50 316.83 L533.45 316.11 L534.41 315.42 L535.37 314.75 L536.32 314.10 L537.28 313.47 L538.24 312.86 L539.19 312.28 L540.15 311.71 L541.11 311.17 L542.06 310.65 L543.02 310.15 L543.98 309.66 L544.94 309.20 L545.89 308.76 L546.85 308.34 L547.81 307.93 L548.76 307.54 L549.72 307.18 L550.68 306.82 L551.63 306.49 L552.59 306.17 L553.55 305.86 L554.50 305.57 L555.46 305.29 L556.42 305.02 L557.37 304.77 L558.33 304.53 L559.29 304.29 L560.24 304.07 L561.20 303.86 L562.16 303.67 L563.12 303.48 L564.07 303.30 L565.03 303.13 L565.99 302.97 L566.94 302.82 L567.90 302.68 L568.86 302.55 L569.81 302.42 L570.77 302.31 L571.73 302.20 L572.68 302.10 L573.64 302.01 L574.60 301.93 L575.55 301.86 L576.51 301.79 L577.47 301.74 L578.42 301.69 L579.38 301.65 L580.34 301.62 L581.29 301.59 L582.25 301.58 L583.21 301.57 L584.17 301.57 L585.12 301.58 L586.08 301.60 L587.04 301.63 L587.99 301.66 L588.95 301.71 L589.91 301.76 L590.86 301.81 L591.82 301.87 L592.78 301.94 L593.73 302.01 L594.69 302.08 L595.65 302.16 L596.60 302.24 L597.56 302.32 L598.52 302.40 L599.47 302.48 L600.43 302.57 L601.39 302.65 L602.35 302.73 L603.30 302.81 L604.26 302.90 L605.22 302.98 L606.17 303.06 L607.13 303.15 L608.09 303.23 L609.04 303.32 L610.00 303.40 L624.50 304.90 L637.50 304.60 L650.40 307.40 L664.60 309.00 L672.30 309.00 L678.80 308.10 L691.70 310.30" fill="none" stroke="#000" stroke-width="1.9" stroke-linejoin="round" stroke-linecap="butt"/>
<path d="M641.3 329.5H660.6" stroke="#111" stroke-width="1.0"/>
<path d="M648.20 326.90h5.2v5.2h-5.2Z" fill="#000"/>
<text x="661.4" y="334" font-size="12">N1−C3</text>
<path d="M640.4 344.0H661.4" stroke="#000" stroke-width="2.0"/>
<text x="662" y="347.7" font-size="12">energy</text>
</g></svg></body></html>
